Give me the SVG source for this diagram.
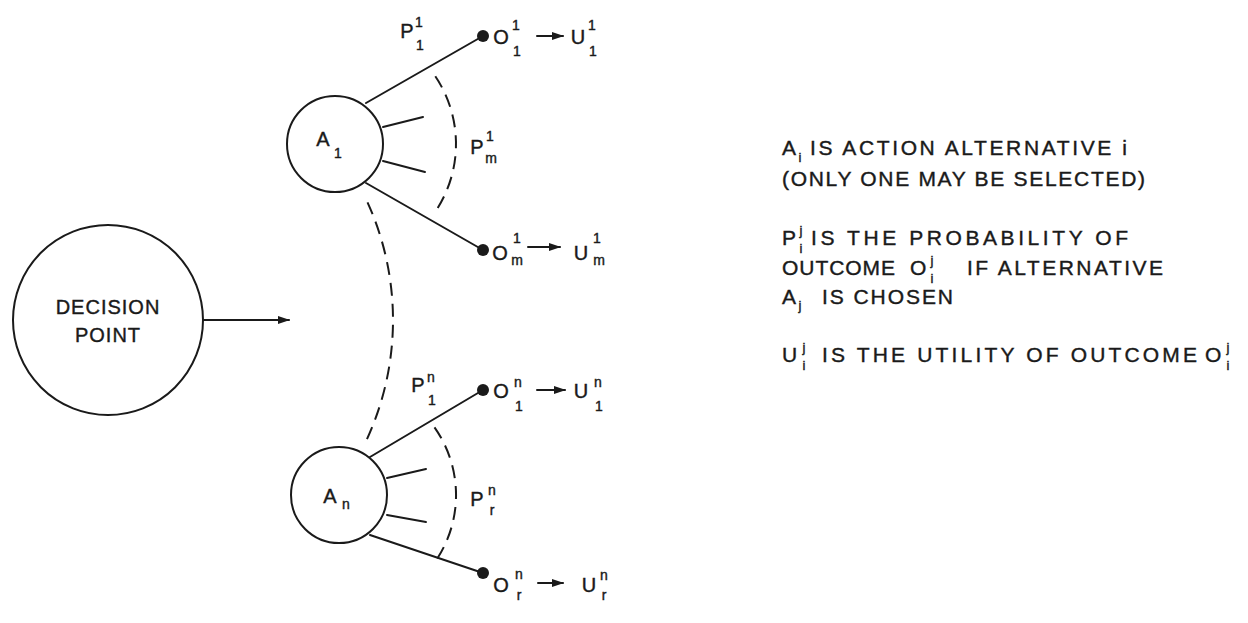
<svg xmlns="http://www.w3.org/2000/svg" width="1248" height="623" viewBox="0 0 1248 623">
<style>
.ln{stroke:#1a1a1a;stroke-width:2;fill:none;stroke-linecap:round}
.ds{stroke:#1a1a1a;stroke-width:2;fill:none;stroke-dasharray:13 8}
.nd{stroke:#1a1a1a;stroke-width:2;fill:#fff}
.dot{fill:#1a1a1a}
text{font-family:"Liberation Sans",Arial,sans-serif;fill:#1a1a1a;stroke:#1a1a1a;stroke-width:0.4}
.b{font-size:20px;text-anchor:middle}
.s{font-size:14px;text-anchor:middle}
.r{font-size:21px}
.rs{font-size:13px;text-anchor:middle}
.dp{font-size:20px;text-anchor:middle;letter-spacing:1px}
</style>
<defs>
<marker id="ah" markerWidth="12" markerHeight="8" refX="11" refY="4" orient="auto" markerUnits="userSpaceOnUse">
<path d="M0,0 L12,4 L0,8 Z" fill="#1a1a1a"/>
</marker>
</defs>
<rect width="1248" height="623" fill="#fff"/>

<g id="connectors">
<line class="ln" x1="203" y1="320" x2="289" y2="320" marker-end="url(#ah)"/>
<line class="ln" x1="366" y1="103" x2="483" y2="36"/>
<line class="ln" x1="366" y1="183" x2="483" y2="250"/>
<line class="ln" x1="383" y1="127" x2="423" y2="117"/>
<line class="ln" x1="383" y1="161" x2="425" y2="172"/>
<line class="ln" x1="370" y1="457" x2="483" y2="390"/>
<line class="ln" x1="370" y1="535" x2="483" y2="573"/>
<line class="ln" x1="387" y1="478" x2="426" y2="469"/>
<line class="ln" x1="387" y1="515" x2="426" y2="522"/>
<path class="ds" d="M435.3,76.3 A121,121 0 0 1 434.1,213.4"/>
<path class="ds" d="M434.5,427.4 A117,117 0 0 1 433.7,563.8"/>
<path class="ds" d="M367.5,202.3 A285,285 0 0 1 365.1,443.1"/>
<line class="ln" x1="537" y1="36" x2="563" y2="36" marker-end="url(#ah)"/>
<line class="ln" x1="528" y1="247" x2="560" y2="247" marker-end="url(#ah)"/>
<line class="ln" x1="537" y1="390" x2="565" y2="390" marker-end="url(#ah)"/>
<line class="ln" x1="538" y1="583" x2="563" y2="583" marker-end="url(#ah)"/>
</g>

<g id="decision-point">
<circle class="nd" cx="108" cy="320" r="95"/>
<text class="dp" x="108" y="314">DECISION</text>
<text class="dp" x="108" y="342">POINT</text>
</g>

<g id="a1">
<circle class="nd" cx="335" cy="144" r="48"/>
<text class="b" x="323" y="146">A</text>
<text class="s" x="338" y="158">1</text>
</g>

<g id="an">
<circle class="nd" cx="339" cy="495" r="48"/>
<text class="b" x="330" y="503">A</text>
<text class="s" x="346" y="509">n</text>
</g>

<g id="p11">
<text class="b" x="407" y="38">P</text>
<text class="s" x="419" y="27">1</text>
<text class="s" x="420" y="50">1</text>
</g>
<g id="pm1">
<text class="b" x="477" y="154">P</text>
<text class="s" x="490" y="141">1</text>
<text class="s" x="491" y="163">m</text>
</g>
<g id="p1n">
<text class="b" x="418" y="392">P</text>
<text class="s" x="431" y="382">n</text>
<text class="s" x="432" y="405">1</text>
</g>
<g id="prn">
<text class="b" x="477" y="506">P</text>
<text class="s" x="492" y="495">n</text>
<text class="s" x="492" y="515">r</text>
</g>

<g id="o11">
<circle class="dot" cx="483" cy="36" r="6"/>
<text class="b" x="501" y="44">O</text>
<text class="s" x="516" y="30">1</text>
<text class="s" x="517" y="56">1</text>
</g>
<g id="u11">
<text class="b" x="578" y="44">U</text>
<text class="s" x="592" y="30">1</text>
<text class="s" x="593" y="56">1</text>
</g>
<g id="om1">
<circle class="dot" cx="483" cy="250" r="6"/>
<text class="b" x="500" y="260">O</text>
<text class="s" x="517" y="243">1</text>
<text class="s" x="517" y="265">m</text>
</g>
<g id="um1">
<text class="b" x="581" y="260">U</text>
<text class="s" x="597" y="243">1</text>
<text class="s" x="599" y="265">m</text>
</g>
<g id="o1n">
<circle class="dot" cx="483" cy="390" r="6"/>
<text class="b" x="501" y="398">O</text>
<text class="s" x="518" y="387">n</text>
<text class="s" x="519" y="411">1</text>
</g>
<g id="u1n">
<text class="b" x="581" y="398">U</text>
<text class="s" x="598" y="387">n</text>
<text class="s" x="599" y="411">1</text>
</g>
<g id="orn">
<circle class="dot" cx="483" cy="573" r="6"/>
<text class="b" x="501" y="592">O</text>
<text class="s" x="519" y="579">n</text>
<text class="s" x="519" y="600">r</text>
</g>
<g id="urn">
<text class="b" x="589" y="592">U</text>
<text class="s" x="604" y="580">n</text>
<text class="s" x="604" y="600">r</text>
</g>

<g id="legend">
<text class="r" x="782" y="155">A</text>
<text class="rs" x="800" y="162">i</text>
<text class="r" x="810" y="155" textLength="317" lengthAdjust="spacing">IS ACTION ALTERNATIVE i</text>
<text class="r" x="782" y="186" textLength="363" lengthAdjust="spacing">(ONLY ONE MAY BE SELECTED)</text>

<text class="r" x="782" y="245">P</text>
<text class="rs" x="801" y="235">j</text>
<text class="rs" x="801" y="253">i</text>
<text class="r" x="811" y="245" textLength="317" lengthAdjust="spacing">IS THE PROBABILITY OF</text>

<text class="r" x="782" y="275" textLength="113" lengthAdjust="spacing">OUTCOME</text>
<text class="r" x="910" y="275">O</text>
<text class="rs" x="932" y="265">j</text>
<text class="rs" x="932" y="283">i</text>
<text class="r" x="967" y="275" textLength="196" lengthAdjust="spacing">IF ALTERNATIVE</text>

<text class="r" x="782" y="304">A</text>
<text class="rs" x="800" y="310">j</text>
<text class="r" x="822" y="304" textLength="131" lengthAdjust="spacing">IS CHOSEN</text>

<text class="r" x="782" y="362">U</text>
<text class="rs" x="804" y="352">j</text>
<text class="rs" x="804" y="370">i</text>
<text class="r" x="822" y="362" textLength="375" lengthAdjust="spacing">IS THE UTILITY OF OUTCOME</text>
<text class="r" x="1205" y="362">O</text>
<text class="rs" x="1228" y="352">j</text>
<text class="rs" x="1228" y="370">i</text>
</g>
</svg>
